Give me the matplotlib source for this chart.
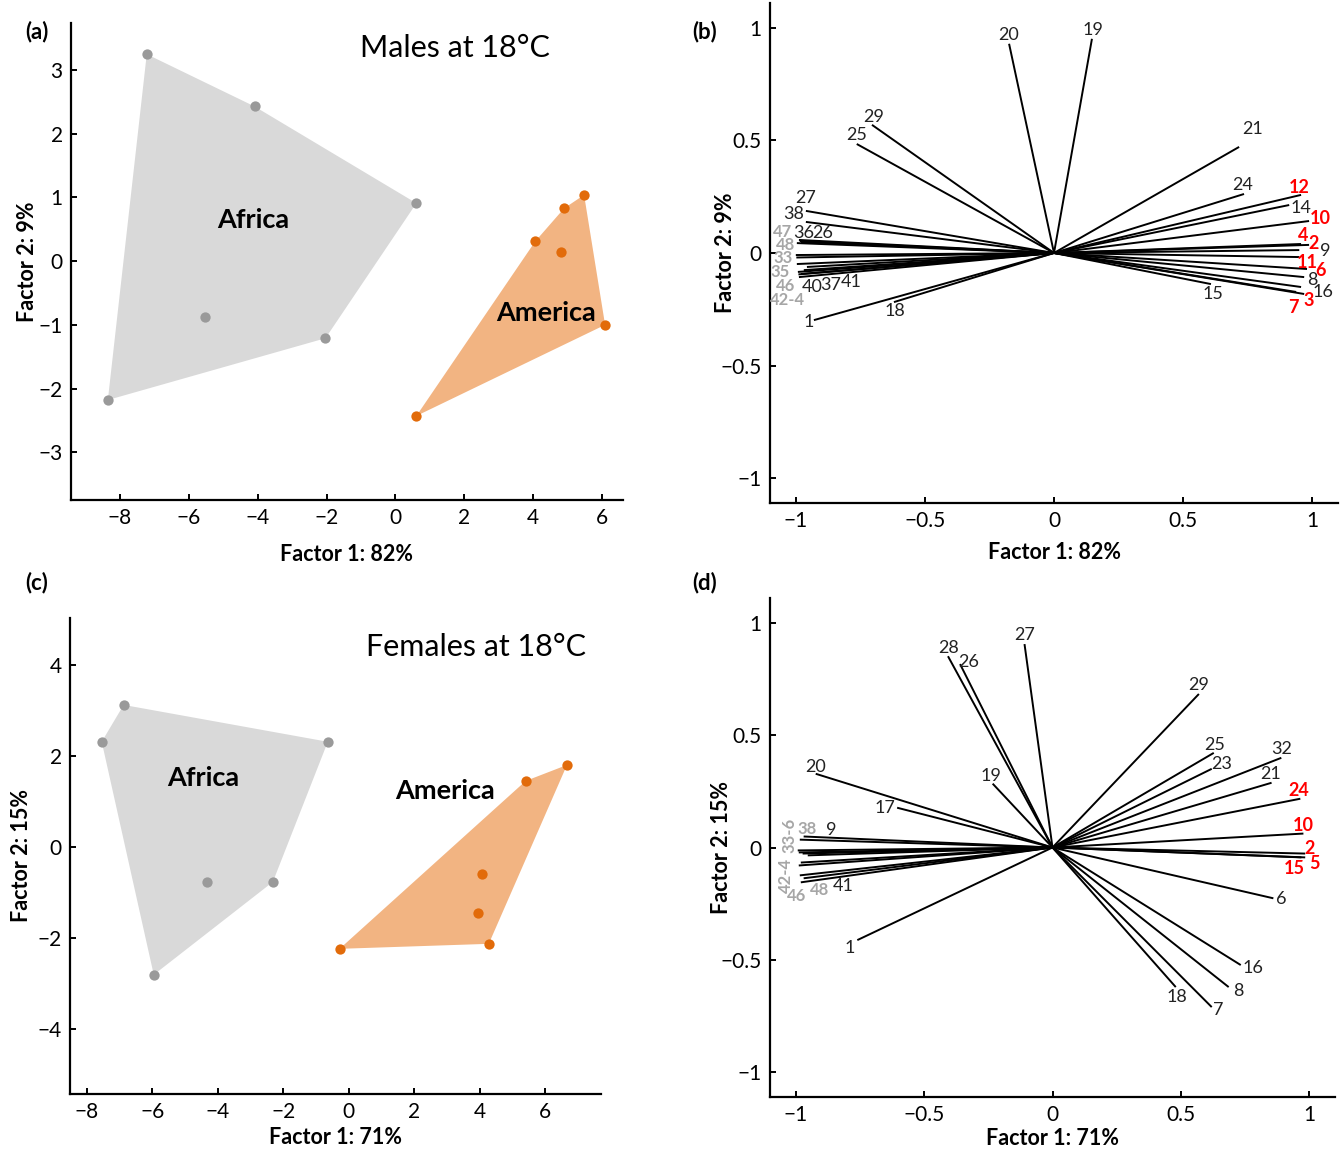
import numpy as np
import matplotlib
matplotlib.use("Agg")
import matplotlib.pyplot as plt
from matplotlib.patches import Polygon
from matplotlib.ticker import FuncFormatter

plt.rcParams['font.family'] = ['Lato', 'DejaVu Sans']

# ---- scores, males (a)
m_africa_x = [-7.22, -4.09, 0.61, -2.03, -5.54, -8.35]
m_africa_y = [3.25, 2.43, 0.91, -1.21, -0.88, -2.18]
m_america_x = [5.48, 4.90, 4.06, 4.81, 6.09, 0.61]
m_america_y = [1.04, 0.83, 0.31, 0.14, -1.00, -2.43]

# ---- scores, females (c)
f_africa_x = [-6.88, -7.55, -0.64, -2.32, -4.34, -5.96]
f_africa_y = [3.12, 2.31, 2.31, -0.77, -0.77, -2.81]
f_america_x = [6.67, 5.41, 4.07, 3.94, 4.28, -0.28]
f_america_y = [1.80, 1.45, -0.59, -1.45, -2.13, -2.24]

# ---- loadings, males (b)
m_names = ["20", "19", "29", "25", "21", "24", "12", "14", "10", "4", "2", "9",
           "11", "6", "8", "16", "3", "7", "15", "1", "18", "27", "38", "47",
           "36", "26", "48", "33", "34", "35", "42-4", "43", "40", "37", "41", "46"]
m_load_x = [-0.174, 0.147, -0.705, -0.764, 0.717, 0.736, 0.957, 0.911, 0.988, 0.957,
            0.988, 0.95, 0.95, 0.98, 0.969, 0.957, 0.969, 0.938, 0.608, -0.93, -0.62,
            -0.961, -0.961, -0.988, -0.985, -0.98, -0.996, -1.0, -0.998, -0.996, -0.992,
            -0.99, -0.98, -0.969, -0.957, -0.988]
m_load_y = [0.929, 0.951, 0.569, 0.484, 0.471, 0.262, 0.258, 0.213, 0.142, 0.04,
            0.036, 0.013, -0.018, -0.071, -0.107, -0.151, -0.182, -0.173, -0.138,
            -0.298, -0.218, 0.187, 0.138, 0.058, 0.053, 0.049, 0.044, -0.009, -0.02,
            -0.049, -0.084, -0.095, -0.093, -0.076, -0.062, -0.107]
m_red = ["12", "10", "4", "2", "11", "6", "3", "7"]
m_gray = ["47", "48", "33", "35", "42-4", "46"]

# ---- loadings, females (d)
f_names = ["27", "28", "26", "19", "17", "20", "29", "25", "23", "32", "21", "24",
           "10", "2", "5", "15", "6", "16", "8", "18", "7", "1", "9", "38", "33-6",
           "34", "35", "36", "42-4", "43", "46", "48", "41"]
f_load_x = [-0.109, -0.407, -0.36, -0.233, -0.605, -0.922, 0.57, 0.628, 0.62, 0.891,
            0.853, 0.965, 0.977, 0.984, 0.984, 0.969, 0.86, 0.733, 0.686, 0.48, 0.62,
            -0.76, -0.969, -0.984, -0.992, -0.988, -0.973, -0.953, -0.988, -0.98,
            -0.984, -0.98, -0.969]
f_load_y = [0.905, 0.851, 0.816, 0.284, 0.177, 0.328, 0.683, 0.421, 0.35, 0.399,
            0.288, 0.217, 0.062, -0.027, -0.044, -0.044, -0.226, -0.523, -0.621,
            -0.621, -0.71, -0.412, 0.049, 0.035, -0.013, -0.022, -0.027, -0.035,
            -0.08, -0.067, -0.124, -0.155, -0.137]
f_red = ["24", "10", "2", "5", "15"]
f_gray = ["38", "33-6", "42-4", "46", "48"]

# label placement (data coords) for the loading plots
m_label_pos = {
    "20": (-0.174, 0.969), "19": (0.151, 0.991), "29": (-0.70, 0.604),
    "25": (-0.764, 0.524), "21": (0.771, 0.551), "24": (0.729, 0.302),
    "12": (0.95, 0.289), "14": (0.957, 0.20), "10": (1.031, 0.151),
    "4": (0.965, 0.076), "2": (1.004, 0.04), "9": (1.05, 0.009),
    "11": (0.98, -0.04), "6": (1.031, -0.076), "8": (1.0, -0.12),
    "16": (1.043, -0.173), "3": (0.988, -0.209), "7": (0.926, -0.244),
    "15": (0.616, -0.182), "1": (-0.95, -0.307), "18": (-0.616, -0.258),
    "27": (-0.961, 0.244), "38": (-1.008, 0.173), "47": (-1.05, 0.094),
    "36": (-0.969, 0.089), "26": (-0.895, 0.089), "48": (-1.039, 0.036),
    "33": (-1.05, -0.022), "35": (-1.062, -0.084), "46": (-1.039, -0.145),
    "42-4": (-1.031, -0.207), "40": (-0.938, -0.151), "37": (-0.864, -0.142),
    "41": (-0.787, -0.129),
}
f_label_pos = {
    "27": (-0.109, 0.945), "28": (-0.403, 0.887), "26": (-0.326, 0.825),
    "19": (-0.24, 0.319), "17": (-0.651, 0.177), "20": (-0.922, 0.359),
    "29": (0.57, 0.723), "25": (0.632, 0.457), "23": (0.659, 0.373),
    "32": (0.891, 0.439), "21": (0.849, 0.328), "24": (0.957, 0.253),
    "10": (0.977, 0.098), "2": (1.0, -0.004), "5": (1.019, -0.071),
    "15": (0.942, -0.093), "6": (0.891, -0.231), "16": (0.779, -0.537),
    "8": (0.725, -0.639), "18": (0.484, -0.665), "7": (0.647, -0.723),
    "1": (-0.791, -0.448), "9": (-0.86, 0.08), "38": (-0.957, 0.084),
    "33-6": (-1.023, 0.052), "42-4": (-1.037, -0.125), "46": (-0.996, -0.217),
    "48": (-0.907, -0.191), "41": (-0.814, -0.173),
}

GRAY_FILL = "#d9d9d9"
GRAY_DOT = "#9a9a9a"
ORANGE_FILL = "#f2b482"
ORANGE_DOT = "#e26b0a"
RED = "#ff0000"
LGRAY = "#a6a6a6"


def hull(xs, ys):
    pts = sorted(set(zip(xs, ys)))

    def cross(o, a, b):
        return (a[0] - o[0]) * (b[1] - o[1]) - (a[1] - o[1]) * (b[0] - o[0])
    lower, upper = [], []
    for p in pts:
        while len(lower) >= 2 and cross(lower[-2], lower[-1], p) <= 0:
            lower.pop()
        lower.append(p)
    for p in reversed(pts):
        while len(upper) >= 2 and cross(upper[-2], upper[-1], p) <= 0:
            upper.pop()
        upper.append(p)
    return lower[:-1] + upper[:-1]


def style_axes(ax):
    for s in ["top", "right"]:
        ax.spines[s].set_visible(False)
    for s in ["left", "bottom"]:
        ax.spines[s].set_linewidth(1.6)
    ax.tick_params(direction="in", length=4, width=1.4, labelsize=15, pad=6)


fmt = FuncFormatter(lambda v, _: f"{v:g}".replace("-", "\u2212"))


def scores_panel(ax, afx, afy, amx, amy, xlim, ylim, yticks, xlab, ylab, xpad, ypad,
                 title, tpos, africa_pos, america_pos):
    ax.add_patch(Polygon(hull(afx, afy), closed=True, facecolor=GRAY_FILL, edgecolor="none", zorder=1))
    ax.add_patch(Polygon(hull(amx, amy), closed=True, facecolor=ORANGE_FILL, edgecolor="none", zorder=1))
    ax.scatter(afx, afy, s=55, color=GRAY_DOT, zorder=3, linewidths=0)
    ax.scatter(amx, amy, s=55, color=ORANGE_DOT, zorder=3, linewidths=0)
    ax.set_xlim(*xlim)
    ax.set_ylim(*ylim)
    ax.set_xticks(np.arange(-8, 7, 2))
    ax.set_yticks(yticks)
    ax.xaxis.set_major_formatter(fmt)
    ax.yaxis.set_major_formatter(fmt)
    ax.set_xlabel(xlab, fontsize=15.5, fontweight="bold", labelpad=xpad)
    ax.set_ylabel(ylab, fontsize=15.5, fontweight="bold", labelpad=ypad)
    ax.text(tpos[0], tpos[1], title, transform=ax.transAxes, ha="center", va="center", fontsize=22)
    ax.text(*africa_pos, "Africa", ha="center", va="center", fontsize=19.5, fontweight="bold", zorder=4)
    ax.text(*america_pos, "America", ha="center", va="center", fontsize=19.5, fontweight="bold", zorder=4)
    style_axes(ax)


def loadings_panel(ax, names, lx, ly, red, gray, label_pos, xlab, ylab, xpad, ypad, rotate_groups):
    for n, x, y in zip(names, lx, ly):
        ax.plot([0, x], [0, y], color="black", lw=1.4, solid_capstyle="butt", zorder=2)
    for n, (tx, ty) in label_pos.items():
        size = 13
        if n in red:
            c, w = RED, "bold"
        elif n in gray:
            c, w, size = LGRAY, "bold", 12
        else:
            c, w = "#222222", "normal"
        rot = 90 if (rotate_groups and "-" in n) else 0
        ax.text(tx, ty, n, color=c, fontweight=w, fontsize=size, ha="center", va="center",
                rotation=rot, zorder=3)
    ax.set_xlim(-1.1, 1.1)
    ax.set_ylim(-1.11, 1.11)
    ax.set_xticks([-1, -0.5, 0, 0.5, 1])
    ax.set_yticks([-1, -0.5, 0, 0.5, 1])
    ax.xaxis.set_major_formatter(fmt)
    ax.yaxis.set_major_formatter(fmt)
    ax.set_xlabel(xlab, fontsize=15.5, fontweight="bold", labelpad=xpad)
    ax.set_ylabel(ylab, fontsize=15.5, fontweight="bold", labelpad=ypad)
    style_axes(ax)


W, H = 1343, 1149
fig = plt.figure(figsize=(W / 100, H / 100), dpi=100)


def px_axes(l, t, r, b):
    return fig.add_axes([l / W, 1 - b / H, (r - l) / W, (b - t) / H])


axa = px_axes(71, 23, 623, 500)
axb = px_axes(770, 3, 1338, 503)
axc = px_axes(70, 618, 601, 1094)
axd = px_axes(770, 598, 1335, 1097)

scores_panel(axa, m_africa_x, m_africa_y, m_america_x, m_america_y,
             (-9.42, 6.61), (-3.75, 3.74), np.arange(-3, 4, 1),
             "Factor 1: 82%", "Factor 2: 9%", 11, 0, "Males at 18\u00b0C", (0.696, 0.948),
             (-4.14, 0.64), (4.38, -0.82))
scores_panel(axc, f_africa_x, f_africa_y, f_america_x, f_america_y,
             (-8.52, 7.71), (-5.43, 5.03), np.arange(-4, 5, 2),
             "Factor 1: 71%", "Factor 2: 15%", 3, 4, "Females at 18\u00b0C", (0.765, 0.939),
             (-4.46, 1.52), (2.94, 1.23))
loadings_panel(axb, m_names, m_load_x, m_load_y, m_red, m_gray, m_label_pos,
               "Factor 1: 82%", "Factor 2: 9%", 8, -11, False)
loadings_panel(axd, f_names, f_load_x, f_load_y, f_red, f_gray, f_label_pos,
               "Factor 1: 71%", "Factor 2: 15%", 2, -8, True)

for lab, (x, y) in {"(a)": (37, 32), "(b)": (705, 32), "(c)": (37, 583), "(d)": (705, 583)}.items():
    fig.text(x / W, 1 - y / H, lab, fontsize=16, fontweight="bold", ha="center", va="center")

fig.savefig("out.png", dpi=100)
